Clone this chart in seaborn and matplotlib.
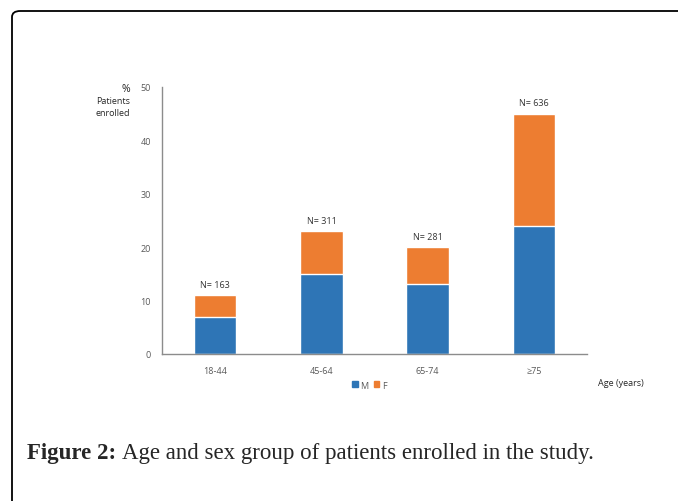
import pandas as pd
import matplotlib.pyplot as plt
import seaborn as sns
from matplotlib.patches import FancyBboxPatch, Patch

# values (% of patients enrolled)
ages = ["18-44", "45-64", "65-74", "≥75"]
male = [7, 15, 13, 24]
female = [4, 8, 7, 21]
n_labels = ["N= 163", "N= 311", "N= 281", "N= 636"]

df = pd.DataFrame({"age": ages, "M": male, "F": female})
df["total"] = df["M"] + df["F"]

blue = "#2E75B6"
orange = "#ED7D31"
grey = "#595959"

sns.set_style("white")
plt.rcParams["font.family"] = ["Open Sans", "DejaVu Sans"]

fig = plt.figure(figsize=(6.78, 5.02), dpi=100)
ax = fig.add_axes([0.239, 0.293, 0.627, 0.532])

# stacked bars: total in orange, male drawn over it in blue
sns.barplot(data=df, x="age", y="total", color=orange, width=0.4,
            saturation=1, ax=ax)
sns.barplot(data=df, x="age", y="M", color=blue, width=0.4,
            saturation=1, ax=ax)

for i, (t, lab) in enumerate(zip(df["total"], n_labels)):
    ax.text(i, t + 1.2, lab, ha="center", va="bottom", fontsize=6.5,
            color="#333333")

ax.set_ylim(0, 50)
ax.set_xlim(-0.5, 3.5)
ax.set_yticks([0, 10, 20, 30, 40, 50])
ax.set_xlabel("")
ax.set_ylabel("")
ax.tick_params(axis="both", length=0, labelsize=6.5, labelcolor=grey)
ax.tick_params(axis="y", pad=8)
ax.tick_params(axis="x", pad=9)
for s in ["top", "right"]:
    ax.spines[s].set_visible(False)
for s in ["left", "bottom"]:
    ax.spines[s].set_color("#8c8c8c")
    ax.spines[s].set_linewidth(1)

# axis titles placed like the original
fig.text(0.192, 0.822, "%", ha="right", va="center", fontsize=7.5, color="#262626")
fig.text(0.192, 0.797, "Patients", ha="right", va="center", fontsize=6.5, color="#262626")
fig.text(0.192, 0.774, "enrolled", ha="right", va="center", fontsize=6.5, color="#262626")
fig.text(0.882, 0.237, "Age (years)", ha="left", va="center", fontsize=6.5, color="#262626")

handles = [Patch(color=blue, label="M"), Patch(color=orange, label="F")]
fig.legend(handles=handles, loc="center", bbox_to_anchor=(0.545, 0.231), ncol=2,
           frameon=False, fontsize=6.5, handlelength=0.6, handleheight=0.6,
           handletextpad=0.3, columnspacing=0.6, labelcolor=grey)

# caption: bold label then the rest, placed right after it
cap_y = 0.096
bold = fig.text(0.040, cap_y, "Figure 2:", fontsize=16.5, fontweight="bold",
                family=["Liberation Serif"], va="center", ha="left")
fig.canvas.draw()
bb = bold.get_window_extent(renderer=fig.canvas.get_renderer())
x_next = (bb.x1 + 6) / fig.bbox.width
fig.text(x_next, cap_y, "Age and sex group of patients enrolled in the study.",
         fontsize=16.5, family=["Liberation Serif"], va="center", ha="left")

# rounded frame running off the right and bottom edges
frame = FancyBboxPatch((12 / 678, -0.1), 1.1, 1 - 12 / 502 + 0.1,
                       boxstyle="round,pad=0,rounding_size=0.012",
                       transform=fig.transFigure, fill=False,
                       edgecolor="black", linewidth=1.3)
fig.patches.append(frame)

fig.savefig("out.png", dpi=100)
